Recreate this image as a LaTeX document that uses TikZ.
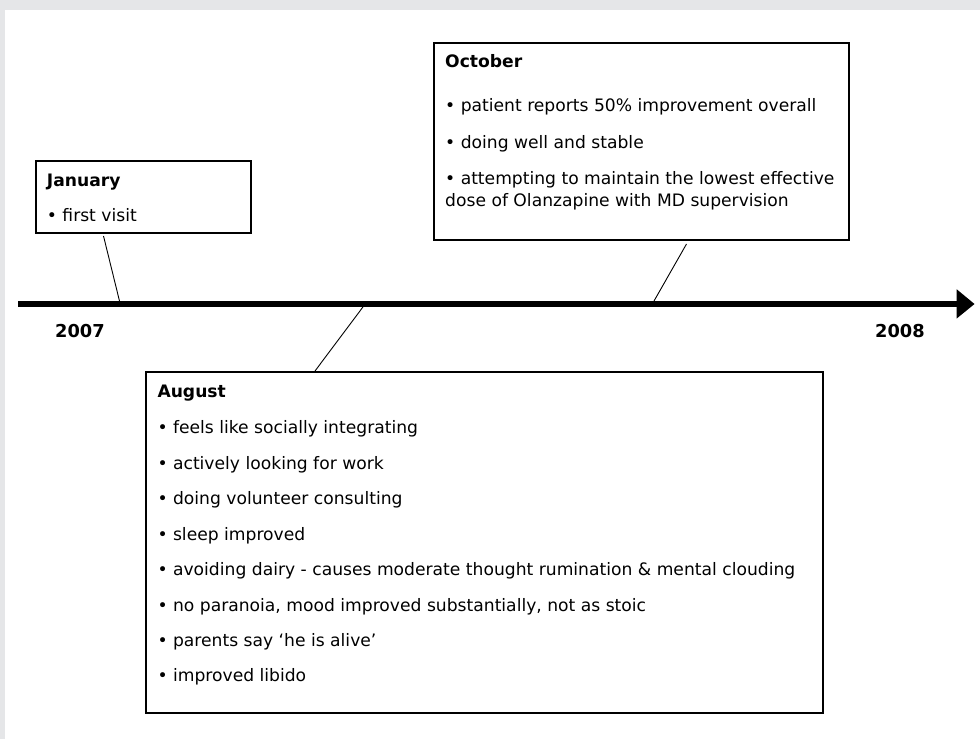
\documentclass[tikz,border=0pt]{standalone}
\usepackage{fontspec}
\setmainfont{DejaVu Sans}
\definecolor{framegrey}{HTML}{E5E6E8}
\tikzset{
  box/.style={draw=black, line width=2pt, fill=white, inner sep=0pt},
  txt/.style={anchor=base west, inner sep=0pt, font=\fontsize{17.15}{20}\selectfont},
  head/.style={txt, font=\fontsize{17.15}{20}\selectfont\bfseries},
  year/.style={txt, font=\fontsize{17.8}{20}\selectfont\bfseries},
  link/.style={draw=black, line width=0.9pt},
  axis/.style={line width=6.3pt},
}
\begin{document}
\begin{tikzpicture}[x=1pt,y=-1pt]
\useasboundingbox (0,0) rectangle (980,739);
\fill[framegrey] (0,0) rectangle (980,739);
\fill[white] (5,10) rectangle (980,739);
% timeline
\coordinate (tl0) at (18,304);
\coordinate (tl1) at (957,304);
\draw[axis] (tl0) -- (tl1);
\fill (956.7,289.3) -- (974.5,304) -- (956.7,318.5) -- cycle;
\node[year] (y2007) at (55,337.3) {2007};
\node[year] (y2008) at (875,337) {2008};
% boxes
\node[box, minimum width=215pt, minimum height=72pt, anchor=north west] (jan) at (35,160) {};
\node[box, minimum width=415pt, minimum height=197.5pt, anchor=north west] (oct) at (432.5,41.7) {};
\node[box, minimum width=677pt, minimum height=341pt, anchor=north west] (aug) at (145,371) {};
% connectors
\coordinate (janT) at (103.5,236);
\coordinate (janB) at (119.5,301);
\coordinate (augT) at (363.3,306.5);
\coordinate (augB) at (315,371);
\coordinate (octT) at (686.5,244);
\coordinate (octB) at (654,301);
\draw[link] (janT) -- (janB);
\draw[link] (augT) -- (augB);
\draw[link] (octT) -- (octB);
% January
\node[head] (janH) at (46.7,186.7) {January};
\node[txt] (jan1) at (46.7,221.7) {• first visit};
% October
\node[head] (octH) at (445,67.3) {October};
\node[txt] (oct1) at (445,111.7) {• patient reports 50\% improvement overall};
\node[txt] (oct2) at (445,148.3) {• doing well and stable};
\node[txt] (oct3) at (445,184) {• attempting to maintain the lowest effective};
\node[txt] (oct4) at (445,206.7) {dose of Olanzapine with MD supervision};
% August
\node[head] (augH) at (157.3,397.7) {August};
\node[txt] (aug1) at (157.3,433.8) {• feels like socially integrating};
\node[txt] (aug2) at (157.3,469) {• actively looking for work};
\node[txt] (aug3) at (157.3,504.5) {• doing volunteer consulting};
\node[txt] (aug4) at (157.3,540) {• sleep improved};
\node[txt] (aug5) at (157.3,575.3) {• avoiding dairy - causes moderate thought rumination \& mental clouding};
\node[txt] (aug6) at (157.3,611) {• no paranoia, mood improved substantially, not as stoic};
\node[txt] (aug7) at (157.3,646.3) {• parents say ‘he is alive’};
\node[txt] (aug8) at (157.3,681.7) {• improved libido};
\end{tikzpicture}
\end{document}
